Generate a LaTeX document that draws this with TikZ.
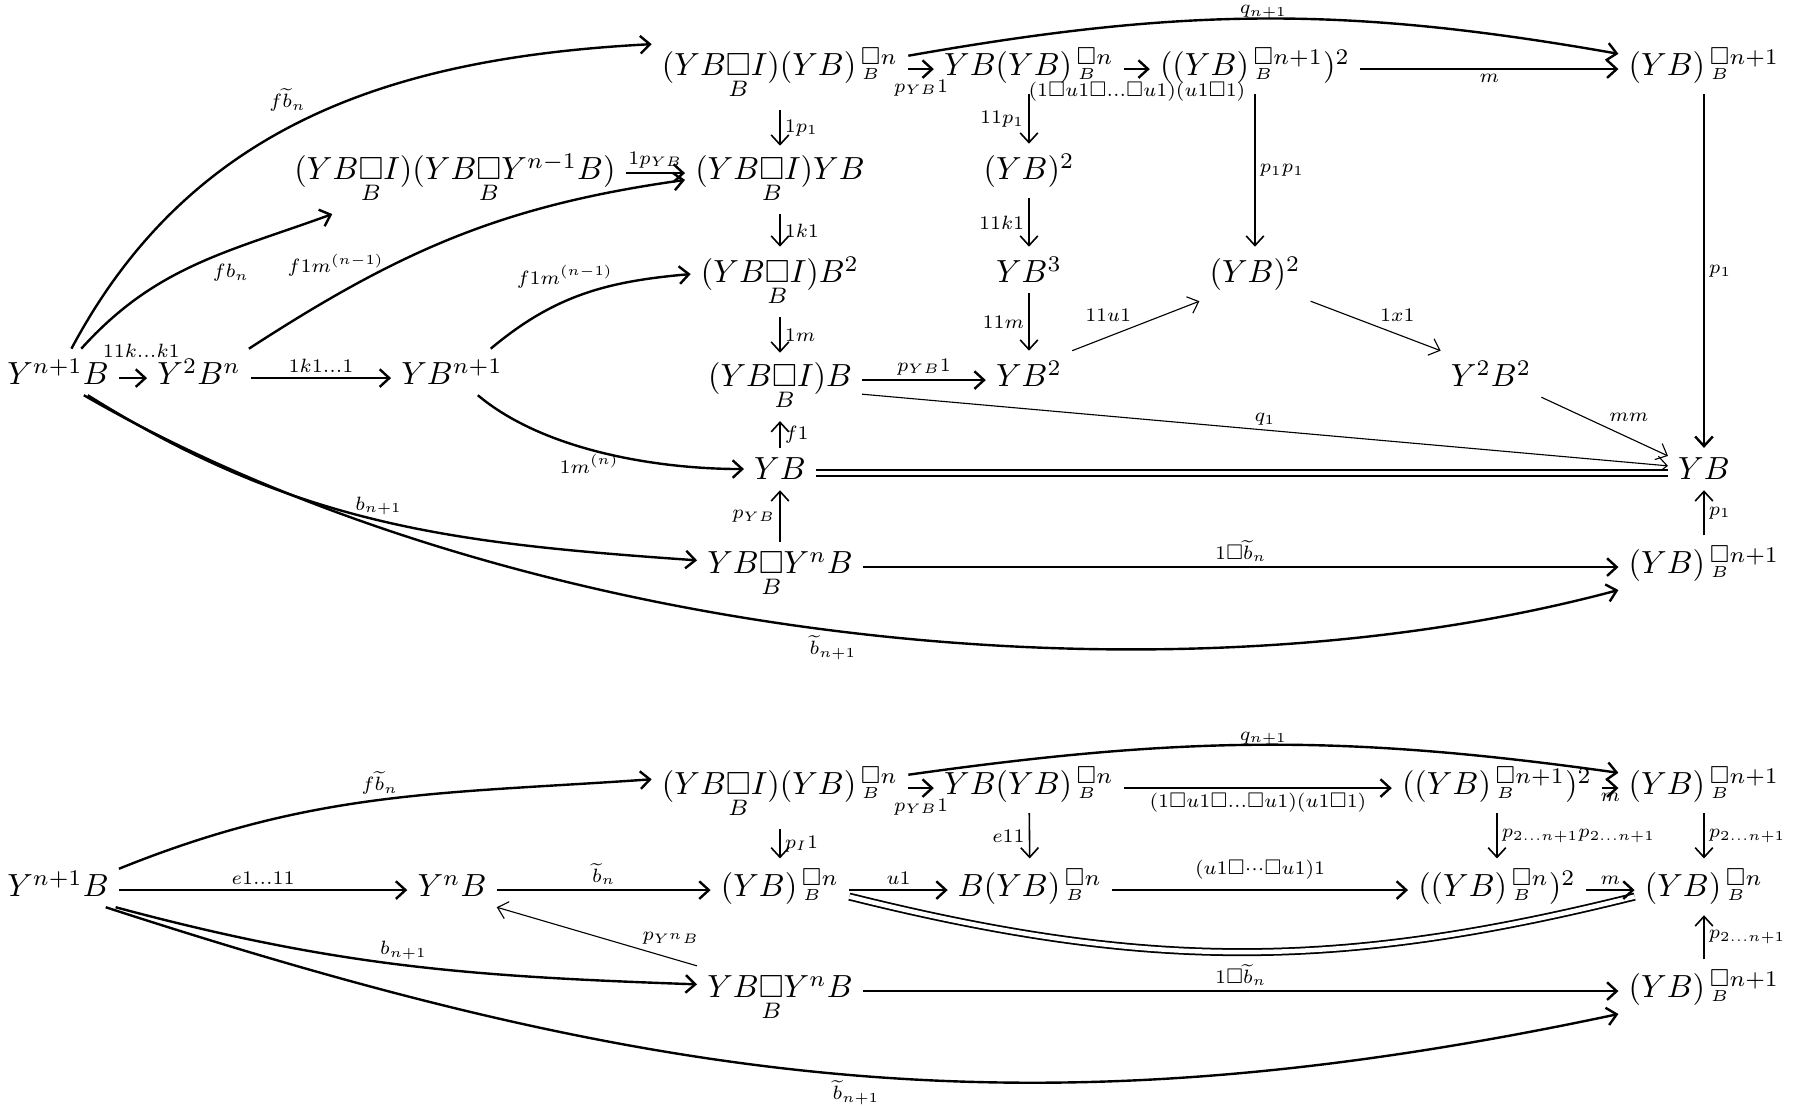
\documentclass[tikz,border=0pt]{standalone}
\usepackage{amsmath,amssymb}
\usetikzlibrary{arrows.meta}
\newcommand{\cotens}{\underset{B}{\square}}
\newcommand{\cpow}{\,\smash[b]{\cotens}}
\begin{document}
\begin{tikzpicture}[x=0.3125pt, y=0.3125pt,
  >={Straight Barb[length=3pt,width=5.5pt]},
  obj/.style={anchor=base, inner sep=3pt},
  lab/.style={inner sep=1.5pt, scale=.86, transform shape,
    execute at begin node=$\scriptstyle, execute at end node=$},
  arr/.style={->, line width=0.75pt},
  varr/.style={->, line width=0.5pt},
  tarr/.style={->, line width=0.35pt},
  eq/.style={double, double distance=1.4pt, line width=0.55pt}]
\useasboundingbox (0,0) rectangle (1805,-1106);
% upper diagram
\node[obj] (ta) at (58,-385) {$Y^{n+1}B$};
\node[obj] (tb) at (199,-385) {$Y^2B^n$};
\node[obj] (tc) at (452,-385) {$YB^{n+1}$};
\node[obj] (td) at (455,-180) {$(YB\cotens I)(YB\cotens Y^{n-1}B)$};
\node[obj] (te) at (780,-76) {$(YB\cotens I)(YB)^{\cpow n}$};
\node[obj] (tf) at (780,-180) {$(YB\cotens I)YB$};
\node[obj] (tg) at (780,-283) {$(YB\cotens I)B^2$};
\node[obj] (th) at (780,-387) {$(YB\cotens I)B$};
\node[obj] (ti) at (780,-480) {$YB$};
\node[obj] (tj) at (780,-574) {$YB\cotens Y^nB$};
\node[obj] (tk) at (1029,-76) {$YB(YB)^{\cpow n}$};
\node[obj] (tl) at (1029,-180) {$(YB)^2$};
\node[obj] (tm) at (1029,-283) {$YB^3$};
\node[obj] (tn) at (1029,-387) {$YB^2$};
\node[obj] (tz) at (1255,-76) {$((YB)^{\cpow n+1})^2$};
\node[obj] (tp) at (1255,-283) {$(YB)^2$};
\node[obj] (tq) at (1491,-387) {$Y^2B^2$};
\node[obj] (tr) at (1704,-76) {$(YB)^{\cpow n+1}$};
\node[obj] (ts) at (1704,-480) {$YB$};
\node[obj] (tt) at (1704,-574) {$(YB)^{\cpow n+1}$};
\draw[arr] (ta.60) to[out=62,in=183] node[pos=.5,lab,above left] {f\widetilde{b}_n} (te.167);
\draw[arr] (ta.45) to[out=48,in=200] node[pos=.55,lab,below right] {fb_n} (td.-164);
\draw[arr] (ta.mid east) -- node[lab,above=5.5pt,xshift=3pt] {11k...k1} (tb.mid west);
\draw[arr] (tb.mid east) -- node[lab,above] {1k1...1} (tc.mid west);
\draw[arr] (tb.25) to[out=33,in=188] node[pos=.2,lab,above=5pt] {f1m^{(n-1)}} (tf.west);
\draw[arr] (tc.31) to[out=40,in=185] node[pos=.4,lab,above=3pt] {f1m^{(n-1)}} (tg.175);
\draw[arr] (tc.-42) to[out=-40,in=180,looseness=.8] node[pos=.45,lab,below] {1m^{(n)}} (ti.west);
\draw[arr] (ta.-38) to[out=-32,in=176] node[pos=.5,lab,above] {b_{n+1}} (tj.170);
\draw[arr] (ta.-42) to[out=-30,in=195,looseness=.8] node[pos=.5,lab,below] {\widetilde{b}_{n+1}} (tt.197);
\draw[arr] (td.mid east) -- node[lab,above] {1p_{YB}} (tf.mid west);
\draw[varr] (te) -- node[lab,right] {1p_1} (tf);
\draw[varr] (tf) -- node[lab,right] {1k1} (tg);
\draw[varr] (tg) -- node[lab,right] {1m} (th);
\draw[varr] (ti) -- node[lab,right] {f1} (th);
\draw[varr] (tj) -- node[lab,left] {p_{YB}} (ti);
\draw[arr] (te.mid east) -- node[lab,below=2pt] {p_{YB}1} (tk.mid west);
\draw[arr] (tk.mid east) -- node[lab,below=3pt] {(1\square u1\square...\square u1)(u1\square1)} (tz.mid west);
\draw[arr] (tz.mid east) -- node[lab,below] {m} (tr.mid west);
\draw[arr] (te.8) to[out=10,in=170] node[lab,above=-2pt] {q_{n+1}} (tr.172);
\draw[varr] (tk) -- node[lab,left] {11p_1} (tl);
\draw[varr] (tl) -- node[lab,left] {11k1} (tm);
\draw[varr] (tm) -- node[lab,left] {11m} (tn);
\draw[arr] (th.mid east) -- node[lab,above] {p_{YB}1} (tn.mid west);
\draw[tarr] (tn.north east) -- node[lab,above left] {11u1} (tp.south west);
\draw[varr] (tz) -- node[lab,right] {p_1p_1} (tp);
\draw[tarr] (tp.south east) -- node[lab,above right] {1x1} (tq.north west);
\draw[tarr] (tq.south east) -- node[lab,above right] {mm} (ts.160);
\draw[tarr] (th) -- node[lab,above] {q_1} (ts);
\draw[eq] (ti.mid east) -- (ts.mid west);
\draw[arr] (tr) -- node[lab,right] {p_1} (ts);
\draw[varr] (tt) -- node[lab,right] {p_1} (ts);
\draw[arr] (tj.mid east) -- node[lab,above] {1\square\widetilde{b}_n} (tt.mid west);
% lower diagram
\node[obj] (ba) at (58,-897) {$Y^{n+1}B$};
\node[obj] (bb) at (452,-897) {$Y^nB$};
\node[obj] (bc) at (780,-897) {$(YB)^{\cpow n}$};
\node[obj] (bd) at (1030,-897) {$B(YB)^{\cpow n}$};
\node[obj] (be) at (1497,-897) {$((YB)^{\cpow n})^2$};
\node[obj] (bf) at (1704,-897) {$(YB)^{\cpow n}$};
\node[obj] (bg) at (780,-795) {$(YB\cotens I)(YB)^{\cpow n}$};
\node[obj] (bh) at (1029,-795) {$YB(YB)^{\cpow n}$};
\node[obj] (bi) at (1497,-795) {$((YB)^{\cpow n+1})^2$};
\node[obj] (bj) at (1704,-795) {$(YB)^{\cpow n+1}$};
\node[obj] (bk) at (780,-998) {$YB\cotens Y^nB$};
\node[obj] (bl) at (1704,-998) {$(YB)^{\cpow n+1}$};
\draw[arr] (ba.14) to[out=22,in=184] node[pos=.5,lab,above] {f\widetilde{b}_n} (bg.174);
\draw[arr] (ba.mid east) -- node[lab,above] {e1...11} (bb.mid west);
\draw[arr] (bb.mid east) -- node[lab,above] {\widetilde{b}_n} (bc.mid west);
\draw[tarr] (bk.north west) -- node[pos=.2,lab,above=2pt,xshift=5pt] {p_{Y^nB}} (bb.south east);
\draw[arr] (ba.-22) to[out=-15,in=178] node[pos=.5,lab,above] {b_{n+1}} (bk.170);
\draw[arr] (ba.-26) to[out=-18,in=192] node[pos=.5,lab,below] {\widetilde{b}_{n+1}} (bl.197);
\draw[arr] (bg.mid east) -- node[lab,below=2pt] {p_{YB}1} (bh.mid west);
\draw[varr] (bg) -- node[lab,right] {p_I1} (bc);
\draw[arr] (bc.mid east) -- node[lab,above] {u1} (bd.mid west);
\draw[eq] (bc.-8) to[out=-14,in=194] (bf.188);
\draw[varr] (bh) -- node[lab,left] {e11} (bd);
\draw[arr] (bh.mid east) -- node[lab,below] {(1\square u1\square...\square u1)(u1\square1)} (bi.mid west);
\draw[arr] (bd.mid east) -- node[lab,above=2pt] {(u1\square\cdots\square u1)1} (be.mid west);
\draw[arr] (bi.mid east) -- node[lab,below] {m} (bj.mid west);
\draw[arr] (be.mid east) -- node[lab,above] {m} (bf.mid west);
\draw[varr] (bi) -- node[lab,right] {p_{2...n+1}p_{2...n+1}} (be);
\draw[varr] (bj) -- node[lab,right] {p_{2...n+1}} (bf);
\draw[varr] (bl) -- node[lab,right] {p_{2...n+1}} (bf);
\draw[arr] (bk.mid east) -- node[lab,above] {1\square\widetilde{b}_n} (bl.mid west);
\draw[arr] (bg.8) to[out=8,in=172] node[lab,above=-2pt] {q_{n+1}} (bj.172);
\end{tikzpicture}
\end{document}
